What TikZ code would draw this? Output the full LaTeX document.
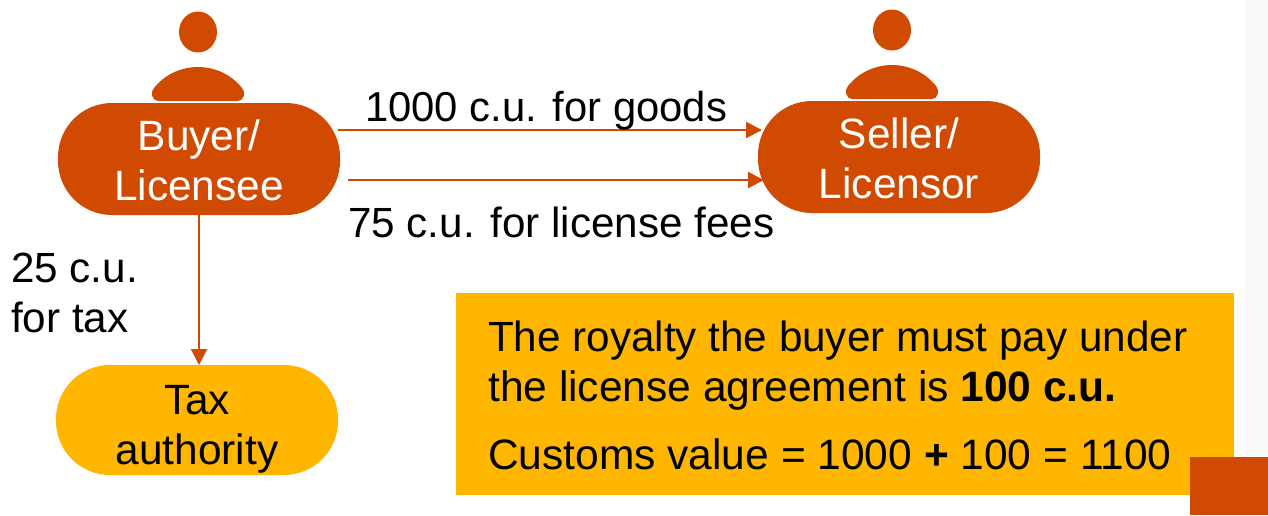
\documentclass[tikz,border=0pt]{standalone}
\usepackage{fontspec}
\setmainfont{Liberation Sans}
\usetikzlibrary{arrows.meta}
\definecolor{pwcorange}{HTML}{D04A02}
\definecolor{pwcyellow}{HTML}{FFB600}
\definecolor{faintbg}{HTML}{FBFAFA}
\newcommand{\topstrut}[1]{\rule{0pt}{#1pt}}
\tikzset{
  x=1pt,y=-1pt,
  pill/.style={rectangle,rounded corners=54pt,minimum width=282pt,minimum height=#1,inner sep=0pt,align=center,
    text width=270pt,font=\fontsize{42.4}{50}\selectfont},
  actor/.style={pill=112pt,fill=pwcorange,text=white},
  taxbox/.style={pill=110pt,fill=pwcyellow,text=black},
  lbl/.style={inner sep=0pt,anchor=base west,font=\fontsize{42.2}{50}\selectfont,text=black},
  lblwide/.style={lbl,font=\fontsize{42.5}{50}\selectfont},
  flow/.style={draw=pwcorange,line width=2pt,-{Triangle[length=16pt,width=16pt]}},
  person/.style={fill=pwcorange,draw=none}
}
\newcommand{\persondraw}[2]{%
  \fill[person] (#1,#2-35) ellipse [x radius=19,y radius=20.5];
  \fill[person] (#1-40,#2+34) .. controls (#1-46,#2+34) and (#1-48,#2+25) .. (#1-44,#2+21)
     .. controls (#1-32,#2+6) and (#1-15,#2) .. (#1,#2)
     .. controls (#1+15,#2) and (#1+32,#2+6) .. (#1+44,#2+21)
     .. controls (#1+48,#2+25) and (#1+46,#2+34) .. (#1+40,#2+34) -- cycle;
}
\begin{document}
\begin{tikzpicture}
\useasboundingbox (0,0) rectangle (1268,515);
\fill[white] (0,0) rectangle (1268,515);
\fill[faintbg] (1245,0) rectangle (1268,515);
\persondraw{198}{67}
\persondraw{892}{65}
\node[actor] (buyer) at (199,159) {\topstrut{34}Buyer/\\Licensee};
\node[actor] (seller) at (899,157) {\topstrut{34}Seller/\\Licensor};
\node[taxbox] (tax) at (197,420) {\topstrut{47}Tax\\authority};
\coordinate (a1) at (338,130);
\coordinate (b1) at (762,130);
\coordinate (a2) at (348,180);
\coordinate (b2) at (764,180);
\draw[flow] (a1) -- (b1);
\draw[flow] (a2) -- (b2);
\coordinate (taxin) at (199,365);
\draw[flow] (buyer.south) -- (taxin);
\node[lbl,font=\fontsize{41.8}{50}\selectfont] (l1) at (365,121) {1000 c.u. for goods};
\node[lbl] (l2) at (348,237) {75 c.u. for license fees};
\node[lbl] (l3) at (11,282) {25 c.u.};
\node[lbl] (l4) at (11,332) {for tax};
\node[fill=pwcyellow,minimum width=778pt,minimum height=202pt,inner sep=0pt] (box) at (845,394) {};
\node[lbl] (t1) at (488,351) {The royalty the buyer must pay under};
\node[lblwide] (t2) at (488,401) {the license agreement is \textbf{100 c.u.}};
\node[lblwide] (t3) at (488,469) {Customs value = 1000 \textbf{+} 100 = 1100};
\node[fill=pwcorange,minimum width=78pt,minimum height=58pt,inner sep=0pt] (corner) at (1229,486) {};
\end{tikzpicture}
\end{document}
